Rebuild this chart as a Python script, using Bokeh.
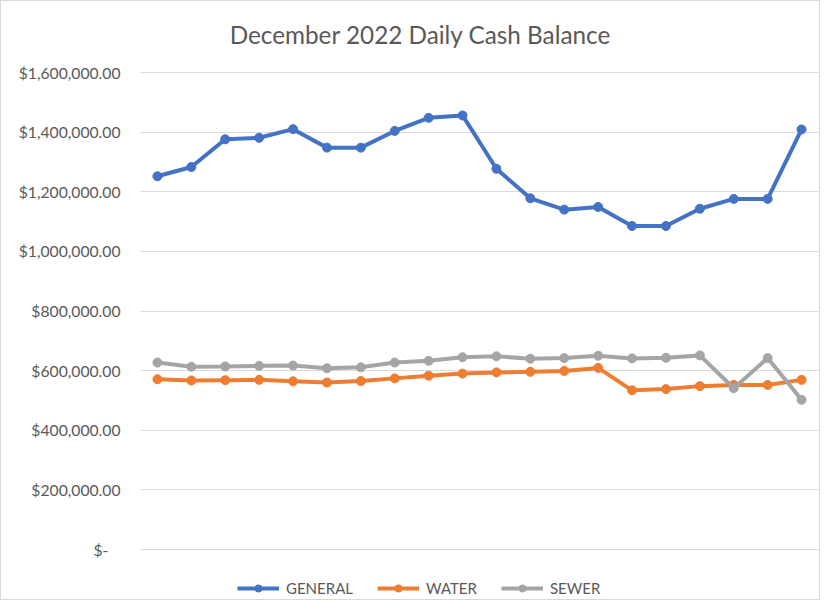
from bokeh.plotting import figure
from bokeh.models import Range1d, FixedTicker, Legend, LegendItem, Label
from bokeh.embed import file_html
from bokeh.resources import INLINE

# ---- data ----
days = list(range(1, 21))
general = [1252000, 1283000, 1376000, 1381000, 1410000, 1348000, 1348000, 1404000,
           1448000, 1456000, 1277000, 1178000, 1140000, 1149000, 1085000, 1085000,
           1143000, 1176000, 1176000, 1409000]
water = [571000, 567000, 568000, 569000, 564000, 560000, 565000, 574000, 583000, 590000,
         594000, 596000, 599000, 609000, 534000, 538000, 548000, 552000, 552000, 569000]
sewer = [627000, 613000, 614000, 616000, 617000, 608000, 611000, 627000, 633000, 645000,
         648000, 640000, 642000, 650000, 641000, 643000, 651000, 541000, 642000, 502000]
series_names = ["GENERAL", "WATER", "SEWER"]
series_colors = ["#4472C4", "#ED7D31", "#A5A5A5"]
y_ticks = [0, 200000, 400000, 600000, 800000, 1000000, 1200000, 1400000, 1600000]
y_tick_labels = ["$-\u00a0\u00a0\u00a0", "$200,000.00", "$400,000.00", "$600,000.00", "$800,000.00",
                 "$1,000,000.00", "$1,200,000.00", "$1,400,000.00", "$1,600,000.00"]
title_text = "December 2022 Daily Cash Balance"

FONT = "Lato"
TXT = "#595959"

W, H = 820, 600
# value axis 0..1.6M occupies 477 px; the frame is stretched over the whole
# figure height so the title (top) and legend (bottom) sit inside it
Y_MAX = 1600000
PLOT_PX = 477
TOP_PX = 71
BOTTOM_PX = 52
y_top = Y_MAX + Y_MAX * TOP_PX / PLOT_PX
y_bottom = -Y_MAX * BOTTOM_PX / PLOT_PX

p = figure(width=W, height=H, output_backend="svg", toolbar_location=None,
           x_range=Range1d(0.5, 20.5), y_range=Range1d(y_bottom, y_top),
           min_border_left=139, min_border_right=3, min_border_top=0, min_border_bottom=0)

p.outline_line_color = None
p.xaxis.visible = False
p.xgrid.visible = False
p.ygrid.grid_line_color = "#D9D9D9"
p.ygrid.grid_line_width = 1
p.yaxis.ticker = FixedTicker(ticks=y_ticks)
p.yaxis.major_label_overrides = dict(zip(y_ticks, y_tick_labels))
p.yaxis.axis_line_color = None
p.yaxis.major_tick_line_color = None
p.yaxis.minor_tick_line_color = None
p.yaxis.major_tick_out = 0
p.yaxis.major_label_standoff = 20
p.yaxis.major_label_text_font = FONT
p.yaxis.major_label_text_font_size = "15.7px"
p.yaxis.major_label_text_color = TXT

title = Label(x=280, y=H - 33, x_units="screen", y_units="screen", text=title_text,
              text_align="center", text_baseline="middle", text_font=FONT,
              text_font_size="24.3px", text_color=TXT)
p.add_layout(title)

items = []
for name, vals, col in zip(series_names, [general, water, sewer], series_colors):
    l = p.line(days, vals, line_color=col, line_width=4)
    s = p.scatter(days, vals, size=9, fill_color=col, line_color=col)
    items.append(LegendItem(label=name, renderers=[l, s]))

legend = Legend(items=items, orientation="horizontal", location=(97, 4),
                glyph_width=42, glyph_height=18, label_standoff=7, spacing=24,
                padding=0, margin=0, border_line_color=None, background_fill_alpha=0,
                label_text_font=FONT, label_text_font_size="15px", label_text_color=TXT)
p.add_layout(legend, "center")
p.styles = {"border": "1px solid #D9D9D9"}

open("out.html", "w").write(file_html(p, INLINE))
